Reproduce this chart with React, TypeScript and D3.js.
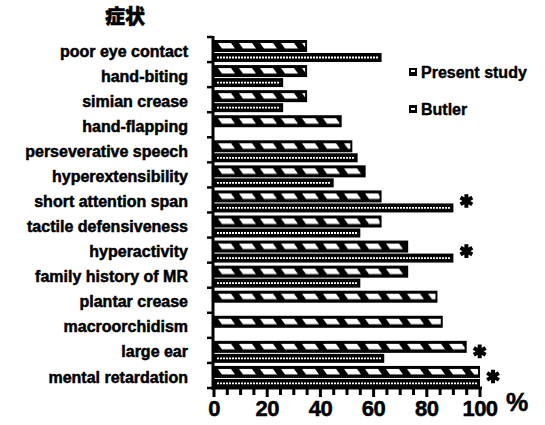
import React from "react";
import * as d3 from "d3";

const categories = [
  "poor eye contact",
  "hand-biting",
  "simian crease",
  "hand-flapping",
  "perseverative speech",
  "hyperextensibility",
  "short attention span",
  "tactile defensiveness",
  "hyperactivity",
  "family history of MR",
  "plantar crease",
  "macroorchidism",
  "large ear",
  "mental retardation",
];
const presentValues = [35, 35, 35, 48, 52, 57, 63, 63, 73, 73, 84, 86, 95, 100];
const butlerValues = [63, 26, 26, 0, 54, 45, 90, 55, 90, 55, 0, 0, 64, 100];
const significant = [false, false, false, false, false, false, true, false, true, false, false, false, true, true];
const xTicks = [0, 20, 40, 60, 80, 100];
const minorTicks = d3.range(0, 101, 5);
const seriesNames = ["Present study", "Butler"];
const title = "症状";

const W = 545;
const H = 425;
const FONT = "'Liberation Sans', Arial, sans-serif";

export default function App() {
  const x = d3.scaleLinear().domain([0, 100]).range([214, 480]);
  const y = d3.scaleBand<string>().domain(categories).range([37, 388]).paddingInner(0).paddingOuter(0);
  const bw = y.step();
  const asterisk = d3.symbol().type(d3.symbolAsterisk).size(130)() as string;

  return (
    <svg width={W} height={H} style={{ position: "absolute", left: 0, top: 0, background: "#fff" }}>
      <defs>
        {categories.map((c, i) => (
          <pattern
            key={c}
            id={`hatch-${i}`}
            patternUnits="userSpaceOnUse"
            width={21}
            height={8}
            x={216}
            y={y(c)! + 5}
          >
            <rect width={21} height={8} fill="#000" />
            <polygon points="2,1 15,1 19,6.5 6,6.5" fill="#fff" />
          </pattern>
        ))}
      </defs>
      <rect width={W} height={H} fill="#fff" />
      <text
        x={125}
        y={24}
        textAnchor="middle"
        fontFamily="'Noto Sans CJK SC', sans-serif"
        fontWeight={900}
        fontSize={20}
        stroke="#000"
        strokeWidth={0.5}
      >
        {title}
      </text>

      {categories.map((c, i) => {
        const y0 = y(c)!;
        const pv = presentValues[i];
        const bv = butlerValues[i];
        return (
          <g key={c}>
            {pv > 0 && (
              <g>
                <rect x={x(0)} y={y0 + 3} width={x(pv) - x(0)} height={12} fill="#000" />
                <rect
                  x={x(0) + 2}
                  y={y0 + 5}
                  width={Math.max(0, x(pv) - x(0) - 4)}
                  height={8}
                  fill={`url(#hatch-${i})`}
                />
              </g>
            )}
            {bv > 0 && (
              <g>
                <rect x={x(0)} y={y0 + 16} width={x(bv) - x(0)} height={9} fill="#000" />
                <line
                  x1={x(0) + 3}
                  x2={x(bv) - 3}
                  y1={y0 + 20.5}
                  y2={y0 + 20.5}
                  stroke="#fff"
                  strokeWidth={1.8}
                  strokeDasharray="2 1"
                />
              </g>
            )}
            {significant[i] && (
              <path
                d={asterisk}
                transform={`translate(${x(Math.max(pv, bv)) + 13},${y0 + bw / 2 + 1})`}
                stroke="#000"
                strokeWidth={4}
                fill="none"
              />
            )}
            <text
              x={188}
              y={y0 + 14}
              dy="0.35em"
              textAnchor="end"
              fontFamily={FONT}
              fontWeight={700}
              fontSize={16}
              stroke="#000"
              strokeWidth={0.5}
            >
              {c}
            </text>
          </g>
        );
      })}

      {/* y axis */}
      <line x1={213} x2={213} y1={36} y2={390} stroke="#000" strokeWidth={3} />
      {d3.range(categories.length + 1).map((i) => {
        const yy = 37 + i * bw;
        return <line key={i} x1={207} x2={213} y1={yy} y2={yy} stroke="#000" strokeWidth={2.5} />;
      })}

      {/* x axis */}
      <line x1={212} x2={482} y1={388} y2={388} stroke="#000" strokeWidth={3} />
      {minorTicks.map((t) => (
        <line key={t} x1={x(t)} x2={x(t)} y1={388} y2={t % 20 === 0 ? 397 : 395} stroke="#000" strokeWidth={3} />
      ))}
      {xTicks.map((t) => (
        <text
          key={t}
          x={x(t)}
          y={416}
          textAnchor="middle"
          fontFamily={FONT}
          fontWeight={700}
          fontSize={22}
          letterSpacing={-0.5}
          stroke="#000"
          strokeWidth={0.5}
        >
          {t}
        </text>
      ))}
      <text x={517} y={411} textAnchor="middle" fontFamily={FONT} fontWeight={700} fontSize={25} stroke="#000" strokeWidth={0.5}>
        %
      </text>

      {/* legend */}
      <g>
        <rect x={409} y={68} width={8} height={8} fill="#000" />
        <rect x={411} y={70} width={4} height={2} fill="#fff" />
        <text x={421} y={72} dy="0.35em" fontFamily={FONT} fontWeight={700} fontSize={16} stroke="#000" strokeWidth={0.4}>
          {seriesNames[0]}
        </text>
        <rect x={409} y={105} width={8} height={8} fill="#000" />
        <rect x={411} y={108} width={4} height={2} fill="#fff" />
        <text x={421} y={109} dy="0.35em" fontFamily={FONT} fontWeight={700} fontSize={16} stroke="#000" strokeWidth={0.4}>
          {seriesNames[1]}
        </text>
      </g>
    </svg>
  );
}
